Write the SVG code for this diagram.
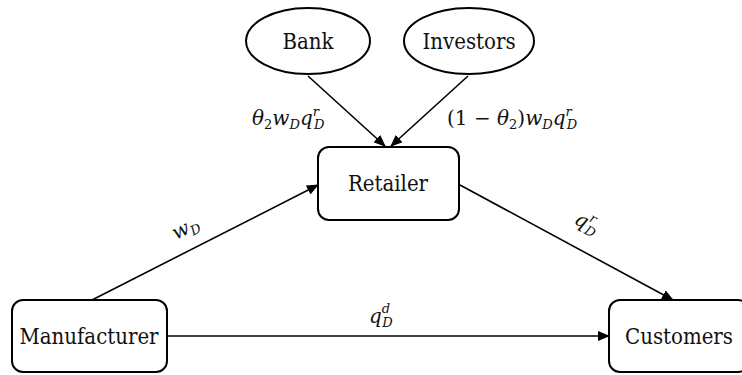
<svg xmlns="http://www.w3.org/2000/svg" width="742" height="375" viewBox="0 0 742 375">
<defs>
<marker id="arr" markerWidth="12" markerHeight="10" refX="11" refY="5" orient="auto" markerUnits="userSpaceOnUse">
<path d="M0,0 L12,5 L0,10 Z" fill="#000"/>
</marker>
<style>
.node{fill:#fff;stroke:#000;stroke-width:2}
.lbl{font-family:"DejaVu Serif Condensed","DejaVu Serif",serif;font-size:22px;fill:#111;text-anchor:middle}
.edge{stroke:#000;stroke-width:1.6;fill:none;marker-end:url(#arr)}
.m{font-family:"DejaVu Serif",serif;font-style:italic;font-size:20px;fill:#111}
.s{font-size:13px}
</style>
</defs>
<rect width="742" height="375" fill="#fff"/>
<g id="connectors">
<line class="edge" x1="308" y1="76" x2="385" y2="146"/>
<line class="edge" x1="468" y1="76" x2="391" y2="146"/>
<line class="edge" x1="92" y1="300" x2="318" y2="185"/>
<line class="edge" x1="460" y1="185" x2="673" y2="300"/>
<line class="edge" x1="167" y1="336" x2="609" y2="336"/>
</g>
<g id="bank"><ellipse class="node" cx="308" cy="41" rx="62" ry="33"/><text class="lbl" x="308" y="49">Bank</text></g>
<g id="investors"><ellipse class="node" cx="469" cy="41" rx="65" ry="33"/><text class="lbl" x="469" y="49">Investors</text></g>
<g id="retailer"><rect class="node" x="318" y="147" width="141" height="73" rx="11"/><text class="lbl" x="388" y="191">Retailer</text></g>
<g id="manufacturer"><rect class="node" x="12" y="300" width="155" height="72" rx="11"/><text class="lbl" x="89" y="344">Manufacturer</text></g>
<g id="customers"><rect class="node" x="609" y="300" width="140" height="72" rx="11"/><text class="lbl" x="679" y="344">Customers</text></g>
<g id="labels">
<text class="m" x="252" y="125">θ<tspan class="s" font-style="normal" dy="4">2</tspan><tspan dy="-4">w</tspan><tspan class="s" dy="4">D</tspan><tspan dy="-4">q</tspan><tspan class="s" dy="-9">r</tspan><tspan class="s" dx="-5" dy="13">D</tspan></text>
<text class="m" x="447" y="125"><tspan font-style="normal">(1 − </tspan>θ<tspan class="s" font-style="normal" dy="4">2</tspan><tspan font-style="normal" dy="-4">)</tspan>w<tspan class="s" dy="4">D</tspan><tspan dy="-4">q</tspan><tspan class="s" dy="-9">r</tspan><tspan class="s" dx="-5" dy="13">D</tspan></text>
<text class="m" transform="translate(176,240) rotate(-27)">w<tspan class="s" dy="4">D</tspan></text>
<text class="m" transform="translate(573,223) rotate(28)">q<tspan class="s" dy="-9">r</tspan><tspan class="s" dx="-5" dy="13">D</tspan></text>
<text class="m" x="369" y="323">q<tspan class="s" dy="-10">d</tspan><tspan class="s" dx="-8" dy="14">D</tspan></text>
</g>
</svg>
